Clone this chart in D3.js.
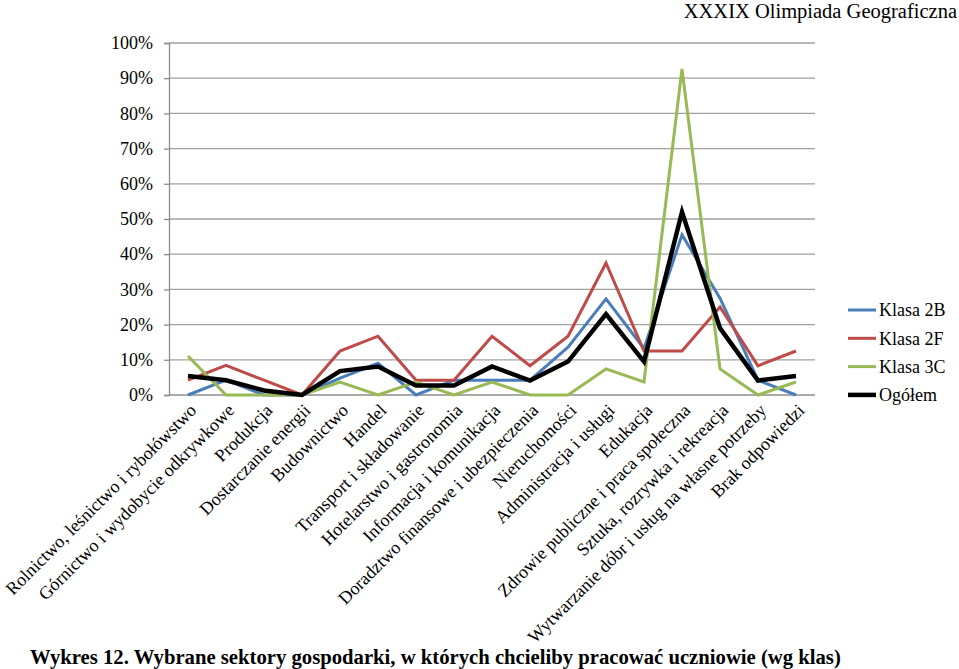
<!DOCTYPE html>
<html><head><meta charset="utf-8">
<script src="https://cdn.jsdelivr.net/npm/d3@7"></script>
<style>body{margin:0;background:#fff}svg{display:block}</style>
</head><body>
<script>
const categories = [
  "Rolnictwo, leśnictwo i rybołówstwo",
  "Górnictwo i wydobycie odkrywkowe",
  "Produkcja",
  "Dostarczanie energii",
  "Budownictwo",
  "Handel",
  "Transport i składowanie",
  "Hotelarstwo i gastronomia",
  "Informacja i komunikacja",
  "Doradztwo finansowe i ubezpieczenia",
  "Nieruchomości",
  "Administracja i usługi",
  "Edukacja",
  "Zdrowie publiczne i praca społeczna",
  "Sztuka, rozrywka i rekreacja",
  "Wytwarzanie dóbr i usług na własne potrzeby",
  "Brak odpowiedzi"
];
const klasa2B = [0, 4.2, 0, 0, 4.8, 9.0, 0, 4.2, 4.2, 4.2, 13.6, 27.3, 13.2, 45.5, 27.5, 4.2, 0];
const klasa2F = [4.2, 8.4, 4.2, 0, 12.5, 16.7, 4.2, 4.2, 16.7, 8.3, 16.7, 37.5, 12.5, 12.5, 25.0, 8.3, 12.5];
const klasa3C = [11.1, 0, 0, 0, 3.7, 0, 3.7, 0, 3.7, 0, 0, 7.4, 3.7, 92.6, 7.4, 0, 3.7];
const ogolem  = [5.4, 4.2, 1.3, 0, 6.8, 8.1, 2.7, 2.7, 8.1, 4.1, 9.5, 23.0, 9.5, 52.0, 19.0, 4.1, 5.4];
const yTicks = [0, 10, 20, 30, 40, 50, 60, 70, 80, 90, 100];
const seriesNames = ["Klasa 2B", "Klasa 2F", "Klasa 3C", "Ogółem"];
const seriesColors = ["#4a7ebb", "#be4b48", "#98b954", "#000000"];
const seriesData = [klasa2B, klasa2F, klasa3C, ogolem];
const titleText = "XXXIX Olimpiada Geograficzna";
const captionText = "Wykres 12. Wybrane sektory gospodarki, w których chcieliby pracować uczniowie (wg klas)";

(function () {
const W = 959, H = 669;
const svg = d3.select("body").append("svg").attr("width", W).attr("height", H);
const font = "'Liberation Serif', 'Times New Roman', serif";
const fs = 18;

const pLeft = 169, pRight = 815, pTop = 43, pBottom = 395;
const x = d3.scaleBand().domain(categories).range([pLeft, pRight]).padding(0);
const y = d3.scaleLinear().domain([0, 100]).range([pBottom, pTop]);

// gridlines
svg.append("g").selectAll("line").data(yTicks.filter(d => d > 0)).join("line")
  .attr("x1", pLeft).attr("x2", pRight)
  .attr("y1", d => y(d)).attr("y2", d => y(d))
  .attr("stroke", "#a0a0a0").attr("stroke-width", 1.3);

// y axis
const yAxis = d3.axisLeft(y).tickValues(yTicks).tickFormat(d => d + "%").tickSize(5).tickPadding(11);
const gy = svg.append("g").attr("transform", `translate(${pLeft},0)`).call(yAxis);
gy.select(".domain").attr("stroke", "#8c8c8c").attr("stroke-width", 1.3);
gy.selectAll(".tick line").attr("stroke", "#8c8c8c").attr("stroke-width", 1.3);
gy.selectAll(".tick text").attr("font-family", font).attr("font-size", fs).attr("fill", "#000");

// x axis baseline
svg.append("line").attr("x1", pLeft).attr("x2", pRight).attr("y1", pBottom).attr("y2", pBottom)
  .attr("stroke", "#8c8c8c").attr("stroke-width", 1.3);

// x labels
svg.append("g").selectAll("text").data(categories).join("text")
  .attr("transform", d => `translate(${x(d) + x.bandwidth() / 2 + 5},${pBottom + 12}) rotate(-45)`)
  .attr("text-anchor", "end")
  .attr("dy", "0.35em")
  .attr("font-family", font).attr("font-size", fs).attr("fill", "#000")
  .text(d => d);

// lines
const line = d3.line().x((d, i) => x(categories[i]) + x.bandwidth() / 2).y(d => y(d));
seriesData.forEach((s, k) => {
  svg.append("path").datum(s)
    .attr("d", line)
    .attr("fill", "none")
    .attr("stroke", seriesColors[k])
    .attr("stroke-width", k === 3 ? 4.5 : 3)
    .attr("stroke-linejoin", "miter");
});

// legend
const lg = svg.append("g");
seriesNames.forEach((n, k) => {
  const yy = 310 + k * 28.3;
  lg.append("line").attr("x1", 848).attr("x2", 876).attr("y1", yy).attr("y2", yy)
    .attr("stroke", seriesColors[k]).attr("stroke-width", k === 3 ? 4.5 : 3);
  lg.append("text").attr("x", 879).attr("y", yy).attr("dy", "0.35em")
    .attr("font-family", font).attr("font-size", fs).attr("fill", "#000").text(n);
});

// header
svg.append("text").attr("x", 957).attr("y", 18).attr("text-anchor", "end")
  .attr("font-family", font).attr("font-size", 20.5).attr("fill", "#000").text(titleText);

// caption
svg.append("text").attr("x", 30).attr("y", 664)
  .attr("font-family", font).attr("font-size", 20.7).attr("font-weight", "bold").attr("fill", "#000").text(captionText);
})();
</script>
</body></html>
